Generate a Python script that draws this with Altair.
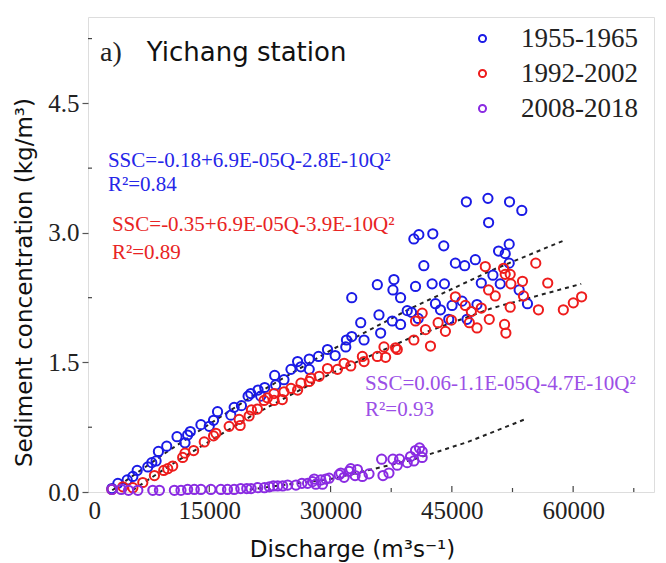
import altair as alt
import pandas as pd

# ---------------- data ----------------
series_names = ["1955-1965", "1992-2002", "2008-2018"]
series_colors = ["#1a1ae6", "#ee1c1c", "#8a2be2"]

blue_q = [2958, 3697, 4848, 5546, 6080, 7394, 7887, 8421, 8709, 9736, 11010, 11995, 12324, 12653,
          13967, 14994, 15528, 16021, 17664, 18075, 18979, 19800, 20129, 21033, 21362, 21855, 23087,
          23210, 24237,
          25102, 25923, 26334, 27361, 27361, 28511, 29621, 30566, 31880, 31962, 32619, 32619, 33729,
          34140, 35783, 35988, 36193, 37631, 37713, 37836, 38658, 38658, 39480, 40014, 40507, 40836,
          41534, 40302, 40918,
          42561, 42643, 42972, 43588, 43999, 44081, 44615, 45026, 45437, 46258, 46587, 46793, 46875,
          47902, 48107, 48641, 49463, 49545, 50079, 50777, 50983, 51599, 52092, 52133, 52092, 53324,
          53653, 54351]
blue_ssc = [0.04, 0.10, 0.14, 0.18, 0.25, 0.29, 0.34, 0.36, 0.47, 0.53, 0.64, 0.57, 0.66, 0.70,
            0.78, 0.76, 0.83, 0.93, 0.89, 0.98, 1.00, 1.11, 1.14, 1.18, 1.11, 1.21, 1.35,
            1.24, 1.30,
            1.42, 1.51, 1.45, 1.54, 1.42, 1.57, 1.65, 1.58, 1.68, 1.76, 1.80, 2.25, 1.96,
            1.76, 2.40, 2.05, 1.84, 1.98, 2.34, 2.46, 1.94, 2.25, 2.10, 2.08, 2.38, 2.01,
            2.62, 2.93, 2.98,
            2.41, 2.99, 2.18, 2.11, 2.85, 2.41, 2.00, 2.16, 2.65, 2.21, 2.62, 3.36, 2.00,
            2.69, 2.17, 2.42, 3.40, 3.12, 2.51, 2.79, 2.41, 2.76, 2.87, 3.36, 2.65, 2.34,
            3.26, 2.18]

red_q = [2958, 4313, 5546, 6778, 8216, 9366, 9859, 10475, 11708, 11995, 13063, 14378, 15528, 15816,
         17459, 18691, 18815, 19924, 20211, 20951, 21772, 22183, 23005, 23005, 24032, 24237,
         25102, 25923, 26334, 27361, 27567, 28594, 29621, 30853, 31675, 32497, 33934, 34140, 35783,
         36604, 36810, 38042, 38247, 40302, 40507, 41329, 41740,
         42355, 43301, 44204, 44944, 45437, 46669, 47162, 47409, 48107, 48641, 49134, 49545, 49627,
         50366, 51393, 51517, 51599, 51681, 52215, 52215, 52297, 53735, 53858, 55378, 55707, 56857,
         58788, 60021, 61048]
red_ssc = [0.03, 0.06, 0.05, 0.11, 0.19, 0.25, 0.27, 0.30, 0.40, 0.45, 0.48, 0.58, 0.65, 0.68,
           0.76, 0.84, 0.77, 0.88, 0.95, 0.96, 1.06, 1.09, 1.14, 1.06, 1.07, 1.16,
           1.20, 1.18, 1.26, 1.28, 1.32, 1.34, 1.43, 1.42, 1.49, 1.46, 1.57, 1.51, 1.57,
           1.68, 1.56, 1.67, 1.65, 1.76, 1.98, 2.07, 1.88,
           1.69, 1.96, 1.86, 1.99, 2.26, 2.16, 1.96, 2.09, 1.90, 2.13, 2.61, 2.34, 2.00,
           2.27, 2.59, 1.94, 2.52, 1.84, 2.52, 2.14, 2.41, 2.44, 2.27, 2.65, 2.11, 2.42,
           2.11, 2.19, 2.26]

purple_q = [2958, 4108, 5012, 6162, 8011, 8832, 10681, 11502, 12324, 13146, 13967, 15200, 16432,
            17254, 18075, 18897, 19636,
            20172, 20994, 21816, 22432, 22925, 23459, 24075, 24691, 25718, 26458, 27156, 27772,
            27978, 28183, 28799, 29005, 29415, 29826, 31059, 31264, 31675, 32291, 32496, 33030,
            33318, 33934, 34756, 36317, 36481, 37220, 37713, 38247, 38535, 39480, 39891, 40302,
            40507, 41000, 41329, 41329]
purple_ssc = [0.03, 0.03, 0.02, 0.02, 0.02, 0.02, 0.02, 0.02, 0.03, 0.03, 0.03, 0.03, 0.03,
              0.03, 0.03, 0.04, 0.04,
              0.04, 0.05, 0.05, 0.06, 0.07, 0.07, 0.07, 0.08, 0.08, 0.10, 0.10, 0.12,
              0.15, 0.09, 0.14, 0.09, 0.15, 0.16, 0.20, 0.22, 0.17, 0.24, 0.27, 0.19,
              0.26, 0.18, 0.21, 0.38, 0.19, 0.22, 0.38, 0.31, 0.38, 0.34, 0.41, 0.36,
              0.48, 0.51, 0.40, 0.47]

# dashed fitted curves
fit_blue_q = [3000, 10000, 20000, 30000, 40000, 50000, 58800]
fit_blue_ssc = [0.02, 0.48, 1.09, 1.64, 2.13, 2.57, 2.91]
fit_red_q = [5500, 10000, 20000, 30000, 40000, 50000, 61000]
fit_red_ssc = [0.02, 0.30, 0.87, 1.37, 1.79, 2.13, 2.41]
fit_purple_q = [20000, 30000, 40000, 47000, 54000]
fit_purple_ssc = [0.03, 0.15, 0.37, 0.58, 0.84]

eq_texts = ["SSC=-0.18+6.9E-05Q-2.8E-10Q²", "R²=0.84",
            "SSC=-0.35+6.9E-05Q-3.9E-10Q²", "R²=0.89",
            "SSC=0.06-1.1E-05Q-4.7E-10Q²", "R²=0.93"]
eq_colors = ["#2626e8", "#2626e8", "#e82424", "#e82424", "#9b4fe6", "#9b4fe6"]
eq_q = [2465, 2465, 2958, 2958, 34264, 34264]
eq_ssc = [3.76, 3.49, 3.02, 2.70, 1.18, 0.88]

x_major = [0, 15000, 30000, 45000, 60000]
x_minor = [7500, 22500, 37500, 52500, 67500]
y_major = [0, 1.5, 3.0, 4.5]
y_minor = [0.75, 2.25, 3.75, 5.25]

# ---------------- tables ----------------
pts = pd.concat([
    pd.DataFrame({"Q": blue_q, "SSC": blue_ssc, "period": series_names[0]}),
    pd.DataFrame({"Q": red_q, "SSC": red_ssc, "period": series_names[1]}),
    pd.DataFrame({"Q": purple_q, "SSC": purple_ssc, "period": series_names[2]}),
], ignore_index=True)
fits = pd.concat([
    pd.DataFrame({"Q": fit_blue_q, "SSC": fit_blue_ssc, "period": series_names[0]}),
    pd.DataFrame({"Q": fit_red_q, "SSC": fit_red_ssc, "period": series_names[1]}),
    pd.DataFrame({"Q": fit_purple_q, "SSC": fit_purple_ssc, "period": series_names[2]}),
], ignore_index=True)
eqs = pd.DataFrame({"Q": eq_q, "SSC": eq_ssc, "text": eq_texts, "color": eq_colors})

W, H = 566, 475
xs = alt.Scale(domain=[0, 70000], nice=False, zero=False)
ys = alt.Scale(domain=[0, 5.5], nice=False, zero=False)
SERIF = "Liberation Serif"
SANS = "DejaVu Sans"

xaxis = alt.Axis(values=x_major, ticks=False, domain=False, grid=False, format="d",
                 labelFont=SERIF, labelFontSize=25, labelColor="#222", labelPadding=6,
                 title="Discharge (m³s⁻¹)", titleFont=SANS, titleFontSize=23, titleFontWeight="normal",
                 titleColor="#111", titleX=264, titleY=64, titleBaseline="alphabetic", titleAnchor="middle",
                 titleAlign="center")
yaxis = alt.Axis(values=y_major, ticks=True, tickSize=6, tickColor="#555", tickWidth=1.2,
                 domain=False, grid=False, format=".1f",
                 labelFont=SERIF, labelFontSize=25, labelColor="#222", labelPadding=3,
                 title="Sediment concentration (kg/m³)", titleFont=SANS, titleFontSize=23,
                 titleFontWeight="normal", titleColor="#111", titleX=-57, titleY=265,
                 titleBaseline="alphabetic", titleAlign="center", titleAngle=270)

scatter = alt.Chart(pts).mark_point(shape="circle", filled=False, size=85, strokeWidth=2, opacity=1).encode(
    x=alt.X("Q:Q", scale=xs, axis=xaxis),
    y=alt.Y("SSC:Q", scale=ys, axis=yaxis),
    color=alt.Color("period:N", scale=alt.Scale(domain=series_names, range=series_colors),
                    legend=alt.Legend(orient="none", legendX=381, legendY=8, title=None,
                                      labelFont=SERIF, labelFontSize=27, labelColor="#222",
                                      symbolType="circle", symbolSize=50, symbolStrokeWidth=2,
                                      labelOffset=25, rowPadding=7)),
)

fit_lines = alt.Chart(fits).mark_line(color="#222", strokeDash=[4, 4], strokeWidth=2).encode(
    x=alt.X("Q:Q", scale=xs), y=alt.Y("SSC:Q", scale=ys), detail="period:N")

eq_layer = alt.Chart(eqs).mark_text(align="left", baseline="alphabetic", font=SERIF, fontSize=21).encode(
    x=alt.X("Q:Q", scale=xs), y=alt.Y("SSC:Q", scale=ys), text="text:N",
    color=alt.Color("color:N", scale=None))

panel_a = alt.Chart(pd.DataFrame({"Q": [1479], "SSC": [4.99], "t": ["a)"]})).mark_text(
    align="left", baseline="alphabetic", font=SERIF, fontSize=28, color="#222").encode(
    x=alt.X("Q:Q", scale=xs), y=alt.Y("SSC:Q", scale=ys), text="t:N")
panel_name = alt.Chart(pd.DataFrame({"Q": [7272], "SSC": [4.99], "t": ["Yichang station"]})).mark_text(
    align="left", baseline="alphabetic", font=SANS, fontSize=26, color="#111").encode(
    x=alt.X("Q:Q", scale=xs), y=alt.Y("SSC:Q", scale=ys), text="t:N")

xmaj = alt.Chart(pd.DataFrame({"v": x_major[1:]})).mark_rule(color="#444", strokeWidth=1.2).encode(
    x=alt.X("v:Q", scale=xs), y=alt.value(H), y2=alt.value(H - 6))
xmin = alt.Chart(pd.DataFrame({"v": x_minor})).mark_rule(color="#444", strokeWidth=1.2).encode(
    x=alt.X("v:Q", scale=xs), y=alt.value(H), y2=alt.value(H - 4))
ymin = alt.Chart(pd.DataFrame({"v": y_minor})).mark_rule(color="#444", strokeWidth=1.2).encode(
    y=alt.Y("v:Q", scale=ys), x=alt.value(0), x2=alt.value(4))

chart = alt.layer(xmaj, xmin, ymin, fit_lines, scatter, eq_layer, panel_a, panel_name).properties(
    width=W, height=H,
    autosize=alt.AutoSizeParams(type="none"),
    padding={"left": 88, "top": 17, "right": 12, "bottom": 71},
).configure_view(stroke="#444", strokeWidth=1.5).configure(background="white")

chart.save("out.html", embed_options={"renderer": "svg", "actions": False})
